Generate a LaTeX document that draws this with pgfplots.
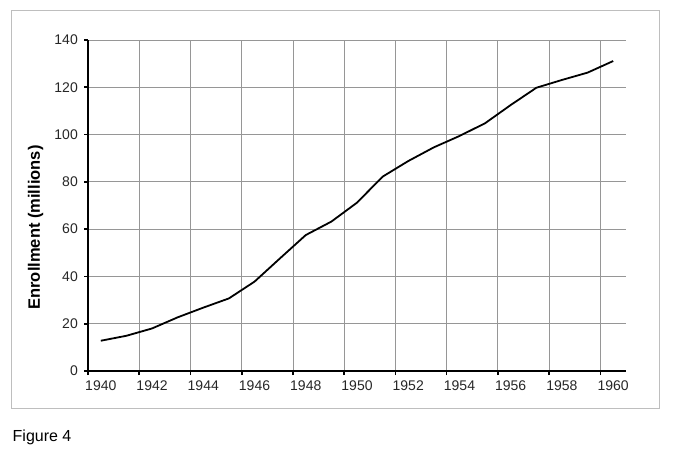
\documentclass[border=0pt]{standalone}
\usepackage{pgfplots}
\pgfplotsset{compat=1.18}
\usepackage{fontspec}
\setmainfont{Liberation Sans}
\definecolor{gridc}{RGB}{150,150,150}
\definecolor{framec}{RGB}{190,190,190}
\begin{document}
\begin{tikzpicture}[x=1pt,y=1pt]
\useasboundingbox (0,0) rectangle (693,458);
\draw[color=framec, line width=1pt] (11.5,50) rectangle (659,447);
\node[anchor=base west, font=\fontsize{16}{18}\selectfont, inner sep=0pt] at (12.5,17) {Figure 4};
\node[rotate=90, font=\fontsize{16.5}{18}\selectfont\bfseries, inner sep=0pt] at (35.5,230.5) {Enrollment (millions)};
\begin{axis}[
  at={(88pt,87pt)}, anchor=south west,
  width=538pt, height=331pt, scale only axis,
  xmin=1939.5, xmax=1960.5, ymin=0, ymax=140,
  axis x line*=bottom, axis y line*=left,
  axis line style={line width=2.4pt, black},
  ytick={0,20,40,60,80,100,120,140},
  xtick={1939.5,1941.5,1943.5,1945.5,1947.5,1949.5,1951.5,1953.5,1955.5,1957.5,1959.5},
  xticklabels={},
  extra x ticks={1940,1942,1944,1946,1948,1950,1952,1954,1956,1958,1960},
  extra x tick labels={1940,1942,1944,1946,1948,1950,1952,1954,1956,1958,1960},
  extra x tick style={major tick length=0pt, grid=none},
  grid=major,
  major grid style={gridc, line width=0.9pt},
  tick style={black, line width=1.6pt},
  tick align=outside, major tick length=4pt,
  /pgf/number format/assume math mode=true,
  tick label style={font=\fontsize{14}{16}\selectfont, text=black!85},
  yticklabel style={inner sep=0pt, xshift=-6pt},
  xticklabel style={inner sep=0pt, yshift=-9.5pt},
]
\addplot[black, line width=1.8pt, mark=none] coordinates {
(1940,12.8) (1941,14.9) (1942,18.0) (1943,22.7) (1944,26.8) (1945,30.7)
(1946,37.8) (1947,47.7) (1948,57.5) (1949,63.2) (1950,71.2) (1951,82.2)
(1952,88.8) (1953,94.6) (1954,99.4) (1955,104.8) (1956,112.5) (1957,119.8)
(1958,123.1) (1959,126.2) (1960,131.1)
};
\end{axis}
\end{tikzpicture}
\end{document}
